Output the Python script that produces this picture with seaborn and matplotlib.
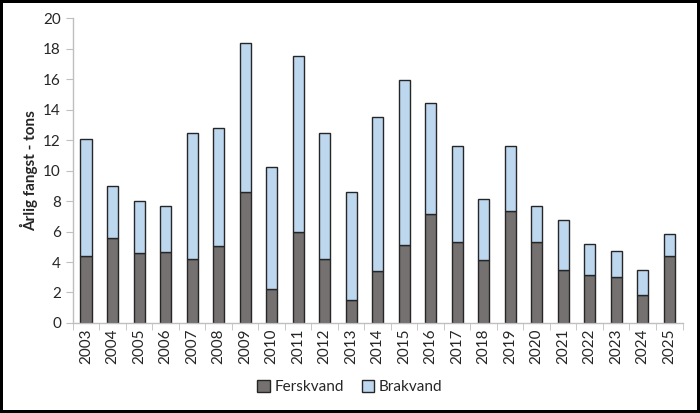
import matplotlib
matplotlib.use("Agg")
import pandas as pd
import matplotlib.pyplot as plt
import seaborn as sns
from matplotlib.patches import Patch

years = [str(y) for y in range(2003, 2026)]
ferskvand = [4.41, 5.57, 4.58, 4.67, 4.19, 5.06, 8.62, 2.22, 5.98, 4.23, 1.48, 3.40,
             5.10, 7.18, 5.30, 4.10, 7.35, 5.30, 3.47, 3.14, 2.99, 1.85, 4.41]
brakvand = [7.64, 3.44, 3.42, 3.03, 8.25, 7.75, 9.72, 8.04, 11.57, 8.23, 7.14, 10.11,
            10.85, 7.27, 6.31, 4.02, 4.24, 2.40, 3.30, 2.07, 1.70, 1.60, 1.46]

sns.set_style("white")
plt.rcParams['font.family'] = ['Lato', 'DejaVu Sans']

df = pd.DataFrame({'year': years, 'Ferskvand': ferskvand, 'Brakvand': brakvand})

fig, ax = plt.subplots(figsize=(7, 4.13), dpi=100)
fig.subplots_adjust(left=0.104, right=0.975, top=0.956, bottom=0.218)

edge = '#262626'
c_fersk = '#767171'
c_brak = '#BDD7EE'
sns.barplot(ax=ax, data=df, x='year', y='Ferskvand', color=c_fersk,
            width=0.42, edgecolor=edge, linewidth=1.0, saturation=1)
sns.barplot(ax=ax, data=df, x='year', y='Brakvand', bottom=df['Ferskvand'],
            color=c_brak, width=0.42, edgecolor=edge, linewidth=1.0, saturation=1)

ax.set_ylim(0, 20)
ax.set_yticks(range(0, 21, 2))
ax.set_xlim(-0.5, len(years) - 0.5)
ax.set_xlabel('')
ax.set_ylabel('Årlig fangst - tons', fontsize=11, fontweight='bold')

for s in ['top', 'right']:
    ax.spines[s].set_visible(False)
for s in ['left', 'bottom']:
    ax.spines[s].set_color('#bfbfbf')
    ax.spines[s].set_linewidth(1)

ax.tick_params(axis='y', length=5, color='#bfbfbf', labelsize=11, direction='out', left=True)
ax.tick_params(axis='x', length=0, labelsize=11, rotation=90, pad=4)
# category separator ticks on the x axis
ax.set_xticks([i - 0.5 for i in range(len(years) + 1)], minor=True)
ax.tick_params(axis='x', which='minor', length=5, color='#bfbfbf', direction='out', bottom=True)

handles = [Patch(facecolor=c_fersk, edgecolor=edge, label='Ferskvand'),
           Patch(facecolor=c_brak, edgecolor=edge, label='Brakvand')]
fig.legend(handles=handles, loc='center', bbox_to_anchor=(0.5, 0.063), ncol=2,
           frameon=False, fontsize=11, handlelength=0.8, handleheight=0.8,
           handletextpad=0.3, columnspacing=1.2)

fig.patch.set_edgecolor('black')
fig.patch.set_linewidth(3)

fig.savefig('out.png', dpi=100, edgecolor=fig.get_edgecolor())
